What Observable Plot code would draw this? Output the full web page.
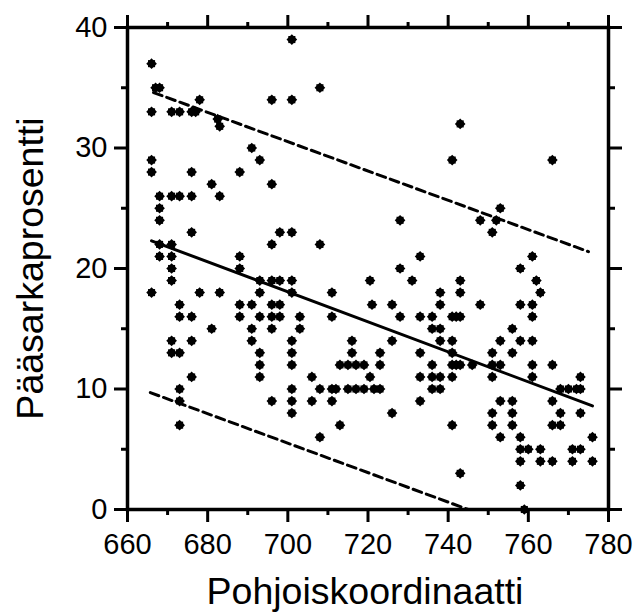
<!DOCTYPE html>
<html><head><meta charset="utf-8">
<script src="https://cdn.jsdelivr.net/npm/d3@7"></script>
<script src="https://cdn.jsdelivr.net/npm/@observablehq/plot@0.6"></script>
<style>body{margin:0;background:#fff}#chart{width:635px;height:613px}</style>
</head><body><div id="chart"></div>
<script>
// Pohjoiskoordinaatti (x) and Pääsarkaprosentti (y) for each observation
const northing = [
701,666,667,668,708,678,696,701,666,671,673,676,677,682.5,683,691,693,666,666,676,688,696,681,683,668,671,673,676,668,668,676,698,701,696,708,
743,741,766,728,748,753,752,751,733,728,761,758,
668,671,668,671,671,671,688,688,666,678,683,673,673,676,681,671,671,673,676,676,673,673,673,688,691,688,693,693,691,691,693,693,693,
696,698,696,698,696,693,696,698,701,696,701,701,701,701,701,701,701,703,703,706,706,708,708,711,711,711,712,711,713,716,716,713,715,717,719,715,717,719,720.5,720.5,
731,743,743,738,738,741,742,743,748,758,761,761,762,763,721,726,728,733,736,736,738,733,726,723,723,721.5,723,733,736,736,736,738,738,741,733,726,
738,741,741,741,742,743,746,741,743,751,753,751,751,753,756,756,758,761,761,761,766,768,770,772,773,773,766,768,766,768,773,776,776,771,773,771,766,
751,751,753,753,756,756,756,758,758,758,760,763,763,758,759
];
const percent = [
39,37,35,35,35,34,34,34,33,33,33,33,33,32.4,31.8,30,29,29,28,28,28,27,27,26,26,26,26,26,25,24,23,23,23,22,22,
32,29,29,24,24,25,24,23,21,20,21,20,
22,22,21,21,20,19,21,20,18,18,18,17,16,16,15,14,13,13,14,11,10,9,7,17,17,16,18,16,15,14,13,12,11,
17,17,16,16,15,19,19,19,19,9,18,14,13,12,10,9,8,16,15,11,9,10,6,18,16,10,10,9,7,14,13,12,12,12,12,10,10,10,19,11,
19,19,18,18,17,16,16,16,17,17,17,16,19,18,17,17,16,16,16,15,15,13,14,13,12,10,10,11,12,11,10,11,10,11,9,8,
14,14,13,12,12,12,12,7,3,12,12,11,13,14,13,15,14,14,12,11,12,10,10,10,10,11,9,8,7,7,8,6,4,5,5,4,4,
8,7,9,6,9,8,7,6,5,4,5,5,4,2,0
];
// regression line and prediction limits
const fitX = [666, 776], fitY = [22.3, 8.6];
const upperX = [666.5, 775], upperY = [34.6, 21.4];
const lowerX = [665.7, 745], lowerY = [9.7, 0];
// axes
const xTicks = [660, 680, 700, 720, 740, 760, 780];
const xMinor = [670, 690, 710, 730, 750, 770];
const yTicks = [0, 10, 20, 30, 40];
const yMinor = [5, 15, 25, 35];
const xLabel = "Pohjoiskoordinaatti";
const yLabel = "Pääsarkaprosentti";

const points = northing.map((x, i) => ({x, y: percent[i]}));
const toXY = (xs, ys) => xs.map((x, i) => ({x, y: ys[i]}));
const blank = () => "";
const font = "'Liberation Sans', Arial, sans-serif";

const chart = Plot.plot({
  width: 635, height: 613,
  marginLeft: 127, marginRight: 27, marginTop: 27, marginBottom: 104,
  style: {fontFamily: font, color: "#000", background: "#fff", overflow: "visible"},
  x: {domain: [660, 780], label: null},
  y: {domain: [0, 40], label: null},
  marks: [
    Plot.line(toXY(upperX, upperY), {x: "x", y: "y", stroke: "#000", strokeWidth: 3, strokeDasharray: "9,5"}),
    Plot.line(toXY(lowerX, lowerY), {x: "x", y: "y", stroke: "#000", strokeWidth: 3, strokeDasharray: "9,5"}),
    Plot.line(toXY(fitX, fitY), {x: "x", y: "y", stroke: "#000", strokeWidth: 3}),
    Plot.dot(points, {x: "x", y: "y", symbol: "square", r: 4, fill: "#000"}),
    Plot.dot(points, {x: "x", y: "y", symbol: "diamond2", r: 4.8, fill: "#000"}),
    Plot.frame({stroke: "#000", strokeWidth: 3.5}),
    Plot.axisX({anchor: "bottom", ticks: xTicks, tickSize: 13, tickPadding: 11, fontSize: 29, strokeWidth: 3, label: null, tickFormat: d => String(d)}),
    Plot.axisX({anchor: "bottom", ticks: xMinor, tickSize: 6, strokeWidth: 3, label: null, tickFormat: blank}),
    Plot.axisX({anchor: "top", ticks: xTicks, tickSize: 13, strokeWidth: 3, label: null, tickFormat: blank}),
    Plot.axisX({anchor: "top", ticks: xMinor, tickSize: 6, strokeWidth: 3, label: null, tickFormat: blank}),
    Plot.axisY({anchor: "left", ticks: yTicks, tickSize: 13, tickPadding: 7, fontSize: 29, strokeWidth: 3, label: null, tickFormat: d => String(d)}),
    Plot.axisY({anchor: "left", ticks: yMinor, tickSize: 6, strokeWidth: 3, label: null, tickFormat: blank}),
    Plot.axisY({anchor: "right", ticks: yTicks, tickSize: 13, strokeWidth: 3, label: null, tickFormat: blank}),
    Plot.axisY({anchor: "right", ticks: yMinor, tickSize: 6, strokeWidth: 3, label: null, tickFormat: blank}),
    Plot.text([yLabel], {text: d => d, frameAnchor: "left", dx: -85, rotate: -90, textAnchor: "middle", lineAnchor: "bottom", fontSize: 37.5, fill: "#000"}),
    Plot.text([xLabel], {text: d => d, frameAnchor: "bottom", dy: 94, dx: -3, textAnchor: "middle", lineAnchor: "bottom", fontSize: 37.5, fill: "#000"})
  ]
});
document.getElementById("chart").appendChild(chart);
</script>
</body></html>
